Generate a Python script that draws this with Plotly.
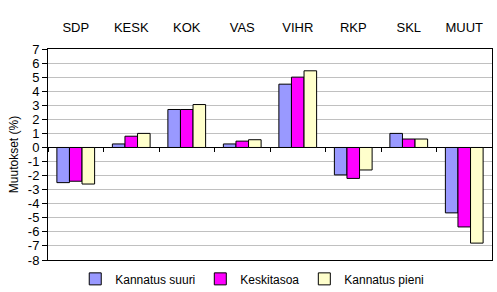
import plotly.graph_objects as go

categories = ["SDP", "KESK", "KOK", "VAS", "VIHR", "RKP", "SKL", "MUUT"]
series_names = ["Kannatus suuri", "Keskitasoa", "Kannatus pieni"]
kannatus_suuri = [-2.5, 0.25, 2.7, 0.25, 4.5, -1.95, 1.0, -4.65]
keskitasoa = [-2.4, 0.8, 2.7, 0.45, 5.0, -2.2, 0.6, -5.65]
kannatus_pieni = [-2.6, 1.0, 3.05, 0.55, 5.45, -1.6, 0.6, -6.8]
y_tickvals = list(range(-8, 8))
y_ticktext = [str(v) for v in y_tickvals]

colors = ["#9999FF", "#FF00FF", "#FFFFCC"]
font = "Liberation Sans, Arial, sans-serif"

fig = go.Figure()
for name, vals, col in zip(series_names, [kannatus_suuri, keskitasoa, kannatus_pieni], colors):
    fig.add_trace(go.Bar(
        x=list(range(len(categories))), y=vals, name=name,
        marker=dict(color=col, line=dict(color="black", width=1)),
    ))

n = len(categories)
fig.add_trace(go.Scatter(x=[0], y=[0], xaxis="x2", mode="markers",
                         marker=dict(opacity=0), showlegend=False, hoverinfo="skip"))

fig.update_layout(
    width=497, height=292,
    margin=dict(l=48, r=5, t=49, b=32, autoexpand=False),
    paper_bgcolor="white", plot_bgcolor="white",
    font=dict(family=font, size=13, color="black"),
    barmode="group", bargap=0.32, bargroupgap=0,
    showlegend=True,
    legend=dict(orientation="h", x=0.46, xanchor="center",
                yref="container", y=0.045, yanchor="middle",
                font=dict(size=12), itemwidth=30, tracegroupgap=0,
                bgcolor="rgba(0,0,0,0)"),
    xaxis=dict(
        range=[-0.5, n - 0.5], side="top",
        tickvals=list(range(n)), ticktext=categories,
        ticks="", ticklabelstandoff=11,
        showline=True, linecolor="black", linewidth=1, mirror=True,
        showgrid=False, zeroline=False, fixedrange=True, automargin=False,
    ),
    xaxis2=dict(
        range=[-0.5, n - 0.5], overlaying="x", anchor="free",
        position=8 / 15, side="bottom",
        tickvals=[i - 0.5 for i in range(n + 1)], showticklabels=False,
        ticks="outside", ticklen=4, tickcolor="black",
        showline=False, showgrid=False, zeroline=False,
    ),
    yaxis=dict(
        range=[-8, 7], tickvals=y_tickvals, ticktext=y_ticktext,
        ticks="outside", ticklen=5, tickcolor="black",
        showline=True, linecolor="black", linewidth=1, mirror=True,
        showgrid=True, gridcolor="#C0C0C0", gridwidth=1,
        zeroline=True, zerolinecolor="black", zerolinewidth=1,
        title=dict(text="Muutokset (%)", font=dict(size=12), standoff=6),
        tickfont=dict(size=13), automargin=False,
    ),
)

fig.write_html("out.html")
